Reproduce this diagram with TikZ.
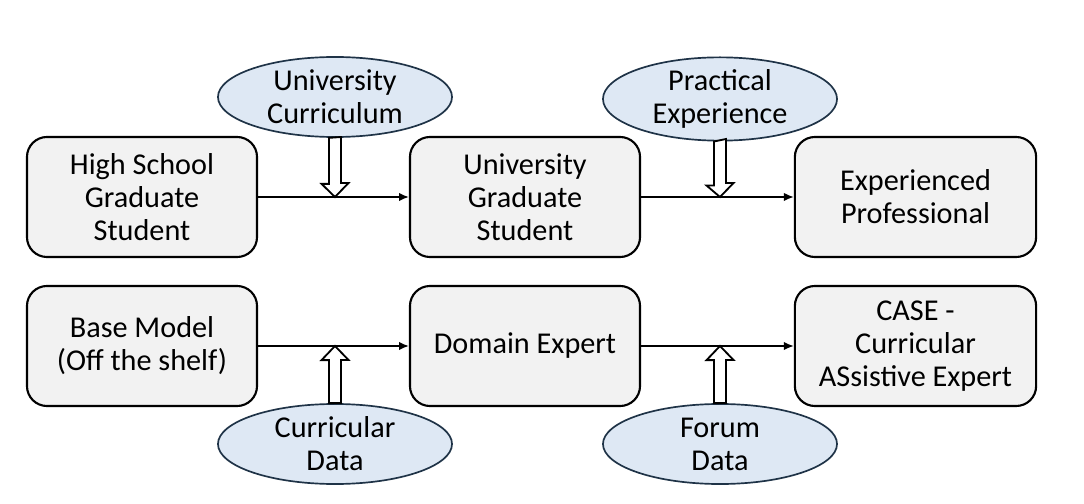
\documentclass[tikz,border=0pt]{standalone}
\usepackage{fontspec}
\setmainfont{Carlito}
\usepackage{xcolor}
\usetikzlibrary{shapes.geometric,arrows.meta}

\definecolor{boxfill}{HTML}{F2F2F2}
\definecolor{ovalfill}{HTML}{DEE8F4}
\definecolor{ovalline}{HTML}{1F3347}

\begin{document}
\begin{tikzpicture}[x=0.025cm,y=-0.025cm,
    stage/.style={draw,line width=1.5pt,fill=boxfill,rounded corners=0.5cm,
      minimum width=5.75cm,minimum height=3cm,align=center,
      font=\fontsize{21.5}{23.5}\selectfont},
    wide/.style={minimum width=6.03cm},
    source/.style={ellipse,draw=ovalline,line width=1.2pt,fill=ovalfill,
      minimum width=5.85cm,minimum height=2cm,inner sep=0pt,align=center,
      font=\fontsize{21.5}{23.5}\selectfont},
    flow/.style={line width=1.2pt,-{Latex[length=7pt,width=6pt]}},
    hollow/.style={line width=1.3pt,fill=white,line join=miter}]
      \useasboundingbox (0,0) rectangle (1084,504);
      \node[stage] (A) at (142,197) {High School\\Graduate\\Student};
      \node[stage] (B) at (525,197) {University\\Graduate\\Student};
      \node[stage,wide] (C) at (915.5,197) {Experienced\\Professional};
      \node[stage] (D) at (142,346) {Base Model\\(Off the shelf)};
      \node[stage] (E) at (525,346) {Domain Expert};
      \node[stage,wide] (F) at (915.5,346) {CASE -\\Curricular\\ASsistive Expert};
        % inputs
      \node[source] (U) at (335,97) {University\\Curriculum};
      \node[source] (P) at (720,99) {Practical\\Experience};
      \node[source] (Q) at (335,444) {Curricular\\Data};
      \node[source] (R) at (720,444) {Forum\\Data};
      \draw[flow] (A) -- (B);
      \draw[flow] (B) -- (C);
      \draw[flow] (D) -- (E);
      \draw[flow] (E) -- (F);
      \coordinate (t1) at (U.south |- A.east);
      \coordinate (t2) at (P.south |- B.east);
      \coordinate (t3) at (Q.north |- D.east);
      \coordinate (t4) at (R.north |- E.east);
      \draw[hollow] (U.south) ++(-6,0) -- ++(0,46) -- ++(-7.5,0) -- (t1)
        -- ++(13.5,-14) -- ++(-7.5,0) -- ++(0,-46) -- cycle;
      \draw[hollow] (P.south) ++(-6,0) -- ++(0,44) -- ++(-7.5,0) -- (t2)
        -- ++(13.5,-14) -- ++(-7.5,0) -- ++(0,-44) -- cycle;
      \draw[hollow] (Q.north) ++(-6,0) -- ++(0,-43) -- ++(-7.5,0) -- (t3)
        -- ++(13.5,14) -- ++(-7.5,0) -- ++(0,43) -- cycle;
      \draw[hollow] (R.north) ++(-6,0) -- ++(0,-43) -- ++(-7.5,0) -- (t4)
        -- ++(13.5,14) -- ++(-7.5,0) -- ++(0,43) -- cycle;
    \end{tikzpicture}
\end{document}
